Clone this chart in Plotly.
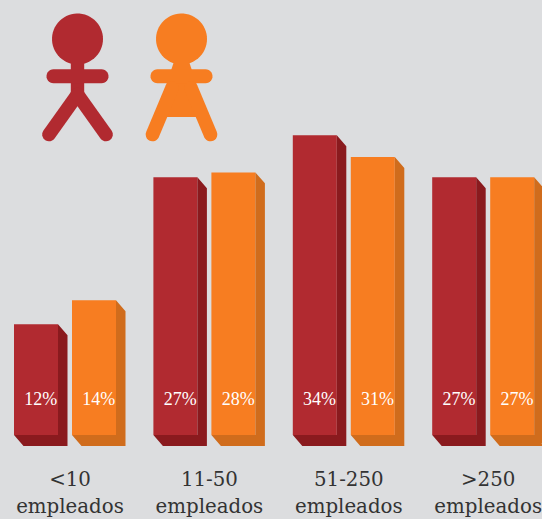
import numpy as np
import plotly.graph_objects as go

categories = ["<10", "11-50", "51-250", ">250"]
second_line = "empleados"
# bar heights as drawn in the picture (they do not follow the printed labels exactly)
heights_a = [11.6, 27.0, 31.4, 27.0]
heights_b = [14.1, 27.5, 29.1, 27.0]
labels_a = ["12%", "27%", "34%", "27%"]
labels_b = ["14%", "28%", "31%", "27%"]

W, H = 542, 519
BG = "#DCDDDF"
RED, RED_D = "#B12A30", "#8A1A1E"
ORG, ORG_D = "#F77D21", "#D06C1C"
TEXT = "#333333"
BAR_W, DX, DY_PX = 44, 9.5, 11
X_A = 14.0; X_B = 72.0; STEP = 139.4
PX_PER_UNIT = 9.55
BASE_PX = 435
BOTTOM_PX = 463


def val(py):
    return (BASE_PX - py) / PX_PER_UNIT


DY = DY_PX / PX_PER_UNIT


def faces(xs, hs):
    px, py = [], []
    for x, h in zip(xs, hs):
        r = x + BAR_W
        px += [r, r + DX, r + DX, r, None, x, x + DX, r + DX, r, None]
        py += [h, h - DY, -DY, 0, None, 0, -DY, -DY, 0, None]
    return px, py


xs_a = [X_A + i * STEP for i in range(4)]
xs_b = [X_B + i * STEP for i in range(4)]
fig = go.Figure()
for xs, hs, col, dark, labs in [(xs_a, heights_a, RED, RED_D, labels_a), (xs_b, heights_b, ORG, ORG_D, labels_b)]:
    fx, fy = faces(xs, hs)
    fig.add_trace(go.Scatter(x=fx, y=fy, mode="lines", fill="toself", fillcolor=dark,
                             line=dict(width=0, color=dark), hoverinfo="skip", showlegend=False))
    fig.add_trace(go.Bar(x=[x + BAR_W / 2 for x in xs], y=hs, width=BAR_W, marker=dict(color=col, line_width=0),
                         hoverinfo="skip", showlegend=False))
    fig.add_trace(go.Scatter(x=[x + (BAR_W + DX) / 2 for x in xs], y=[val(400)] * 4, mode="text", text=labs,
                             textposition="middle center",
                             textfont=dict(family="Liberation Serif", size=18, color="white"),
                             hoverinfo="skip", showlegend=False))


def capsule(p, q, r):
    p, q = np.array(p, float), np.array(q, float)
    a = np.arctan2(*(q - p)[::-1])
    pts = []
    for c, start in [(q, a - np.pi / 2), (p, a + np.pi / 2)]:
        for t in np.linspace(0, np.pi, 14):
            pts.append(c + r * np.array([np.cos(start + t), np.sin(start + t)]))
    return pts


def path(pts):
    return "M " + " L ".join(f"{x:.2f},{val(y):.4f}" for x, y in pts) + " Z"


def fill(pts, col):
    fig.add_shape(type="path", path=path(pts), fillcolor=col, line_width=0, xref="x", yref="y", layer="above")


def head(cx, cy, r, col):
    t = np.linspace(0, 2 * np.pi, 60)
    fill(list(zip(cx + r * np.cos(t), cy + r * np.sin(t))), col)


# man icon
c = 77.5
head(c, 39, 25.5, RED)
fill([(c - 6.7, 60), (c + 6.7, 60), (c + 6.7, 95), (c - 6.7, 95)], RED)
fill(capsule((53.5, 76.3), (101.5, 76.3), 7), RED)
fill(capsule((c, 94.5), (49, 134.5), 6.8), RED)
fill(capsule((c, 94.5), (106, 134.5), 6.8), RED)

# woman icon
c = 181.5
head(c, 39, 25.5, ORG)
fill([(c - 7, 60), (c + 7, 60), (c + 15, 84), (c + 16, 117), (c - 16, 117), (c - 15, 84)], ORG)
fill(capsule((157.5, 76.3), (205.5, 76.3), 7), ORG)
fill(capsule((172, 88), (152.5, 134.5), 6.8), ORG)
fill(capsule((191, 88), (210.5, 134.5), 6.8), ORG)

ticktext = [f'<span style="font-size:19.8px">{c}<br>{second_line}</span>' for c in categories]
fig.update_layout(
    width=W, height=H, margin=dict(l=0, r=0, t=0, b=H - BOTTOM_PX, pad=0),
    paper_bgcolor=BG, plot_bgcolor=BG, barmode="overlay", showlegend=False,
    xaxis=dict(range=[0, W], tickmode="array", tickvals=[70 + i * STEP for i in range(4)], ticktext=ticktext,
               showgrid=False, zeroline=False, showline=False, ticks="", ticklabeloverflow="allow",
               tickfont=dict(family="DejaVu Serif", size=21.5, color=TEXT), tickangle=0, automargin=False),
    yaxis=dict(range=[val(BOTTOM_PX), val(0)], visible=False, showgrid=False, zeroline=False),
)
fig.write_html("out.html", config={"displayModeBar": False},
               post_script="document.body.style.margin='0';document.body.style.background='" + BG + "';document.body.style.overflow='hidden';")
